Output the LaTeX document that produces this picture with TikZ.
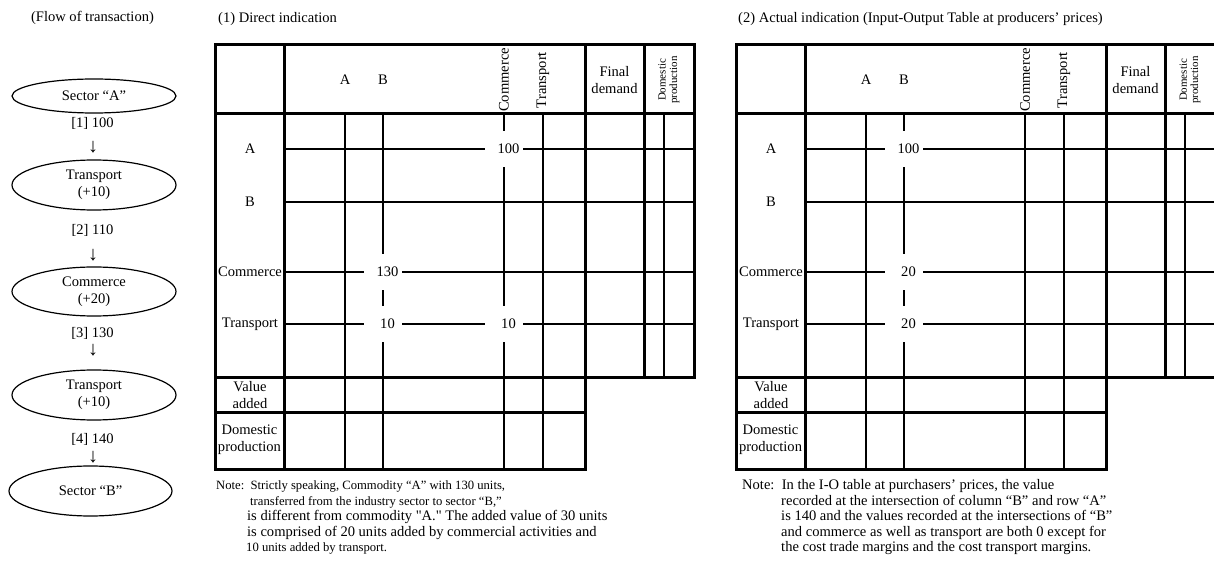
\documentclass[tikz,border=0pt]{standalone}
\usepackage{fontspec}
\setmainfont{Liberation Serif}[Ligatures=TeXOff]
\usetikzlibrary{shapes.geometric}
\newcommand\iotable[1]{%
  % thin grid lines
  \draw[gridthin] (284,149) -- (694,149) (284,202) -- (694,202)
                  (284,272) -- (694,272) (284,324) -- (694,324);
  \draw[gridthin] (345,114) -- (345,469) (383,114) -- (383,469)
                  (504,114) -- (504,469) (543,114) -- (543,469)
                  (664,114) -- (664,377);
  % thick lines
  \draw[gridthick] (215,45) -- (694,45) -- (694,377) -- (585,377) -- (585,469) -- (215,469) -- cycle;
  \draw[gridthick] (215,114) -- (694,114) (215,377) -- (585,377) (215,412) -- (585,412)
                   (284,45) -- (284,469) (585,45) -- (585,377) (644,45) -- (644,377);
  % header
  \node (#1hA) at (345,80) {A};
  \node (#1hB) at (383,80) {B};
  \node[rotate=90] (#1hC) at (504,80) {Commerce};
  \node[rotate=90] (#1hT) at (543,80) {Transport};
  \node[align=center] (#1hF) at (614.5,80) {Final\\demand};
  \node[smallhead] (#1hD) at (669,80) {Domestic\\production};
  % row labels
  \node (#1rA) at (250,149) {A};
  \node (#1rB) at (250,202) {B};
  \node (#1rC) at (250,272) {Commerce};
  \node (#1rT) at (250,324) {Transport};
  \node[align=center] (#1rV) at (250,395) {Value\\added};
  \node[align=center] (#1rD) at (249.5,440) {Domestic\\production};
}
\begin{document}
\begin{tikzpicture}[x=1bp,y=-1bp,
  every node/.style={font=\fontsize{14.6}{17}\selectfont, inner sep=0pt},
  gridthin/.style={line width=1.3bp},
  gridthick/.style={line width=3bp},
  flowbox/.style={draw, ellipse, line width=1.2bp, minimum width=164bp, minimum height=50bp, align=center},
  flowarrow/.style={font=\fontsize{20}{20}\selectfont},
  valbox/.style={fill=white, minimum width=38bp, minimum height=36bp},
  smallhead/.style={rotate=90, align=center, font=\fontsize{11}{11.5}\selectfont},
  notetext/.style={anchor=base west},
  smallnote/.style={anchor=base west, font=\fontsize{12.7}{15}\selectfont},
]
\useasboundingbox (0,0) rectangle (1214,570);
\clip (0,0) rectangle (1214,570);

% titles
\node (title0) at (92.5,18) {(Flow of transaction)};
\node[anchor=west] (title1) at (218,19) {(1) Direct indication};
\node[anchor=west] (title2) at (738,19) {(2) Actual indication (Input-Output Table at producers’ prices)};

% flow of transaction
\node[flowbox, minimum height=34bp] (sa) at (94,96) {Sector “A”};
\node (l1) at (92.5,123) {[1] 100};
\node[flowarrow] (a1) at (93,147) {↓};
\node[flowbox] (t1) at (94,185) {Transport\\(+10)};
\node (l2) at (92.5,230) {[2] 110};
\node[flowarrow] (a2) at (93,255) {↓};
\node[flowbox, minimum height=49bp] (cm) at (94,291.5) {Commerce\\(+20)};
\node (l3) at (92.5,333) {[3] 130};
\node[flowarrow] (a3) at (93,350) {↓};
\node[flowbox] (t2) at (94,395) {Transport\\(+10)};
\node (l4) at (92.5,439) {[4] 140};
\node[flowarrow] (a4) at (93,457) {↓};
\node[flowbox, minimum width=163bp] (sb) at (90.5,491) {Sector “B”};

% table 1
\iotable{p}
\node[valbox] (pv1) at (504,149) {\hspace*{9bp}100};
\node[valbox] (pv2) at (383,272) {\hspace*{9bp}130};
\node[valbox] (pv3) at (383,324) {\hspace*{9bp}10};
\node[valbox] (pv4) at (504,324) {\hspace*{9bp}10};

% table 2
\begin{scope}[xshift=521bp]
\iotable{q}
\node[valbox] (qv1) at (383,149) {\hspace*{9bp}100};
\node[valbox] (qv2) at (383,272) {\hspace*{9bp}20};
\node[valbox] (qv3) at (383,324) {\hspace*{9bp}20};
\end{scope}

% notes
\node[smallnote] (n1a) at (216,489.5) {Note:\ \ Strictly speaking, Commodity “A” with 130 units,};
\node[smallnote] (n1b) at (250,505) {transferred from the industry sector to sector “B,”};
\node[notetext] (n1c) at (247,520.5) {is different from commodity "A." The added value of 30 units};
\node[notetext] (n1d) at (247,536) {is comprised of 20 units added by commercial activities and};
\node[smallnote] (n1e) at (246,551.5) {10 units added by transport.};

\node[notetext] (n2a) at (742,489.5) {Note:\ \ In the I-O table at purchasers’ prices, the value};
\node[notetext] (n2b) at (781,505) {recorded at the intersection of column “B” and row “A”};
\node[notetext] (n2c) at (781,520.5) {is 140 and the values recorded at the intersections of “B”};
\node[notetext] (n2d) at (781,536) {and commerce as well as transport are both 0 except for};
\node[notetext] (n2e) at (781,551.5) {the cost trade margins and the cost transport margins.};
\end{tikzpicture}
\end{document}
